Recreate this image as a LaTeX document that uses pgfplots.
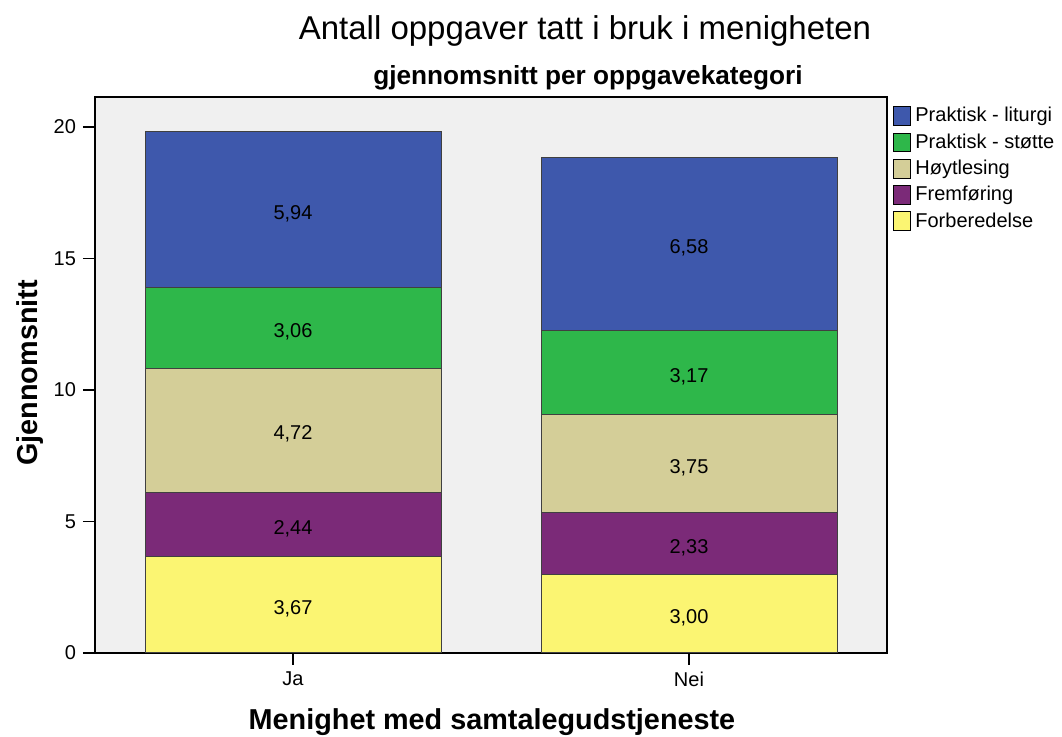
\documentclass[border=0pt]{standalone}
\usepackage{fontspec}
\setmainfont{Liberation Sans}
\usepackage{pgfplots}
\pgfplotsset{compat=1.18}
\definecolor{cLit}{HTML}{3E58AC}
\definecolor{cSt}{HTML}{2EB74A}
\definecolor{cHoy}{HTML}{D4CE98}
\definecolor{cFrem}{HTML}{7B2A78}
\definecolor{cForb}{HTML}{FBF572}
\definecolor{bg}{HTML}{F0F0F0}
\begin{document}
\begin{tikzpicture}
\path[use as bounding box] (0pt,0pt) rectangle (531pt,368.5pt);
\begin{axis}[
  at={(47.5pt,42pt)}, anchor=south west,
  width=396pt, height=278pt, scale only axis,
  xmin=-0.5, xmax=1.5, ymin=0, ymax=21.14,
  xtick={0,1}, xticklabels={Ja,Nei},
  ytick={0,5,10,15,20},
  axis background/.style={fill=bg},
  axis line style={line width=0.9pt},
  tick align=outside, major tick length=6pt,
  tick style={black, line width=0.8pt},
  xtick pos=bottom, ytick pos=left,
  /pgf/number format/assume math mode=true,
  tick label style={font=\fontsize{10}{12}\selectfont},
  ybar stacked, bar width=148pt,
  every axis plot/.append style={draw=black!75, line width=0.5pt},
  point meta=rawy,
  nodes near coords={\pgfmathprintnumber[fixed,fixed zerofill,precision=2,use comma]{\pgfplotspointmeta}},
  every node near coord/.append style={font=\fontsize{10}{12}\selectfont, text=black, anchor=center, yshift=-2pt},
  legend style={at={(1,1)}, anchor=north west, xshift=3pt, yshift=-3pt, draw=none, fill=none,
     font=\fontsize{10}{12}\selectfont, row sep=0.4pt, inner sep=0pt},
  legend cell align=left,
  reverse legend,
  legend image code/.code={\draw[#1,draw=black,line width=0.5pt] (0pt,-4.7pt) rectangle (8.5pt,4.7pt);},
]
\addplot[fill=cForb] coordinates {(0,3.67) (1,3.00)};
\addplot[fill=cFrem] coordinates {(0,2.44) (1,2.33)};
\addplot[fill=cHoy] coordinates {(0,4.72) (1,3.75)};
\addplot[fill=cSt] coordinates {(0,3.06) (1,3.17)};
\addplot[fill=cLit] coordinates {(0,5.94) (1,6.58)};
\legend{Forberedelse,Fremføring,Høytlesing,Praktisk - støtte,Praktisk - liturgi}
\end{axis}
\node[font=\fontsize{16.5}{19}\selectfont] at (292.5pt,353pt) {Antall oppgaver tatt i bruk i menigheten};
\node[font=\bfseries\fontsize{13.1}{15}\selectfont] at (294pt,329.5pt) {gjennomsnitt per oppgavekategori};
\node[font=\bfseries\fontsize{14.4}{16}\selectfont] at (246pt,7.5pt) {Menighet med samtalegudstjeneste};
\node[font=\bfseries\fontsize{14.4}{16}\selectfont, rotate=90] at (15pt,182pt) {Gjennomsnitt};
\end{tikzpicture}
\end{document}
